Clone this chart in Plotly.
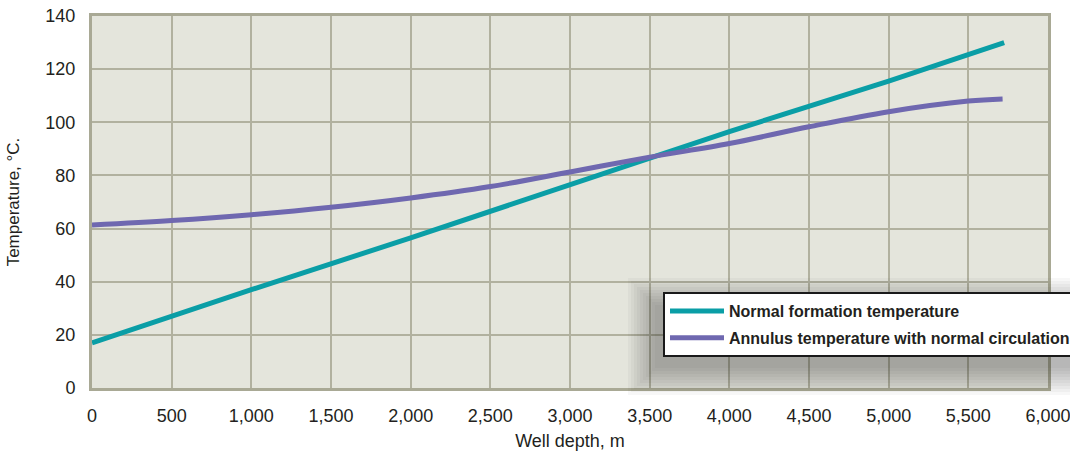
import plotly.graph_objects as go

# Data
depth_formation = [0, 1000, 2000, 3000, 4000, 5000, 5725]
temp_formation = [17, 37, 56.5, 76.5, 96.5, 115.5, 130]

depth_annulus = [0, 500, 1000, 1500, 2000, 2500, 3000, 3500, 4000, 4500, 5000, 5500, 5715]
temp_annulus = [61.3, 63, 65.2, 68, 71.5, 75.8, 81.3, 86.9, 92, 98.3, 104, 108, 108.8]

series_names = ["Normal formation temperature", "Annulus temperature with normal circulation"]
x_ticks = [0, 500, 1000, 1500, 2000, 2500, 3000, 3500, 4000, 4500, 5000, 5500, 6000]
y_ticks = [0, 20, 40, 60, 80, 100, 120, 140]

TEAL = "#0a9ea6"
PURPLE = "#6f68b0"
GRID = "#b1b19f"
BG = "#e4e5dc"

W, H = 1070, 451
L, R, T, B = 92, 22, 16, 63
PW, PH = W - L - R, H - T - B

fig = go.Figure()
fig.add_trace(go.Scatter(x=depth_formation, y=temp_formation, mode="lines",
                         name=series_names[0], legendgroup="a",
                         line=dict(color=TEAL, width=5)))
fig.add_trace(go.Scatter(x=depth_annulus, y=temp_annulus, mode="lines",
                         name=series_names[1], legendgroup="b",
                         line=dict(color=PURPLE, width=5, shape="spline")))

def px2paper(px, py):
    return (px - L) / PW, (H - B - py) / PH

# soft shadow behind the legend box
shapes = []
box = (655, 305, 1085, 368)
for i in range(10):
    g = i * 3
    x0, y0 = px2paper(box[0] - g, box[1] - g)
    x1, y1 = px2paper(box[2] + g, box[3] + g)
    shapes.append(dict(type="rect", xref="paper", yref="paper", x0=x0, x1=x1, y0=y1, y1=y0,
                       line=dict(width=0), fillcolor="rgba(40,40,40,0.035)", layer="above"))

lx, ly = px2paper(663, 292)

fig.update_layout(
    width=W, height=H,
    margin=dict(l=L, r=R, t=T, b=B, autoexpand=False),
    paper_bgcolor="white", plot_bgcolor=BG,
    font=dict(family="Liberation Sans, Arial, sans-serif", size=18, color="#231f20"),
    showlegend=True,
    legend=dict(x=lx, y=ly, xanchor="left", yanchor="top", bgcolor="white",
                bordercolor="#1a1a1a", borderwidth=2, itemwidth=54,
                traceorder="grouped", tracegroupgap=3,
                font=dict(family="Liberation Sans, Arial, sans-serif", size=16,
                          color="#231f20", weight="bold"),
                itemclick=False),
    shapes=shapes,
    xaxis=dict(range=[0, 6000], tickvals=x_ticks, tickformat=",d", showgrid=True,
               gridcolor=GRID, gridwidth=2, showline=True, linecolor="#a9a995", linewidth=3,
               mirror=True, zeroline=False, ticks="", ticklabelstandoff=9,
               ticklabeloverflow="allow",
               title=dict(text="Well depth, m", standoff=24, font=dict(size=18))),
    yaxis=dict(range=[0, 140], tickvals=y_ticks, showgrid=True, gridcolor=GRID, gridwidth=2,
               showline=True, linecolor="#a9a995", linewidth=3, mirror=True, zeroline=False,
               ticks="", ticklabelstandoff=10,
               title=dict(text="Temperature, °C.", standoff=22, font=dict(size=17))),
)

fig.write_html("out.html")
